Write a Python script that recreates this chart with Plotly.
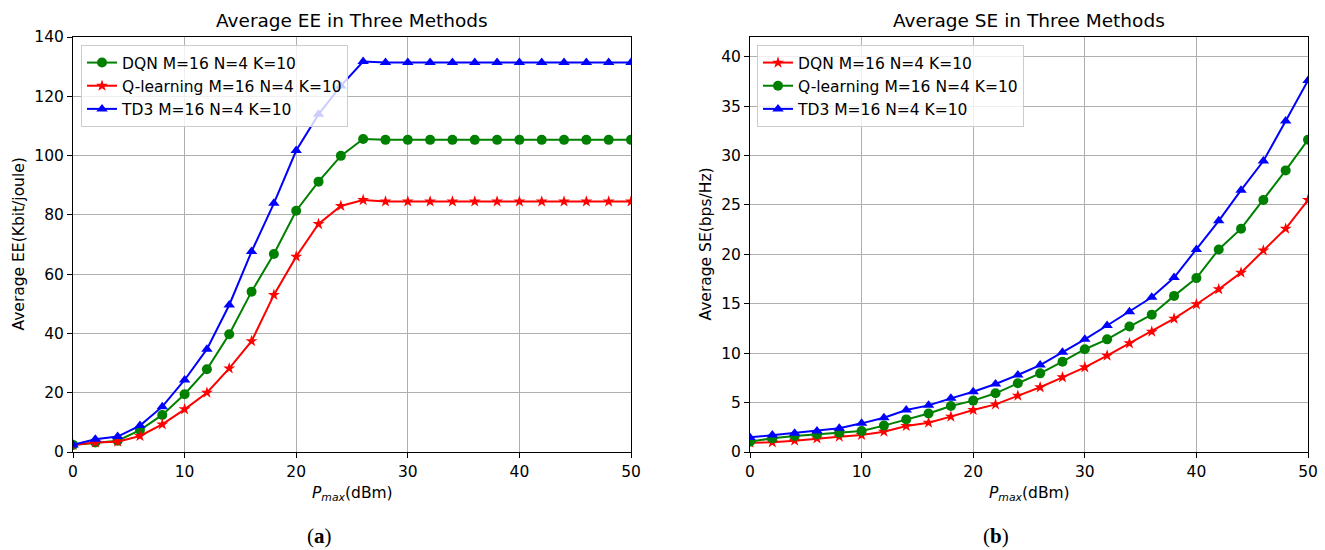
import plotly.graph_objects as go

p_max = list(range(0, 51, 2))

# Left: Average EE (Kbit/joule)
ee_td3 = [2.4, 4.3, 5.2, 8.9, 15.3, 24.3, 34.7, 49.6, 67.6, 83.9, 101.7, 113.9, 123.5, 131.7,
          131.4, 131.4, 131.4, 131.4, 131.4, 131.4, 131.4, 131.4, 131.4, 131.4, 131.4, 131.4]
ee_dqn = [2.4, 3.2, 3.8, 7.4, 12.5, 19.5, 27.9, 39.7, 54.1, 66.8, 81.4, 91.2, 99.9, 105.6,
          105.3, 105.3, 105.3, 105.3, 105.3, 105.3, 105.3, 105.3, 105.3, 105.3, 105.3, 105.3]
ee_ql = [2.4, 3.2, 3.5, 5.4, 9.3, 14.4, 20.0, 28.2, 37.4, 53.0, 65.9, 76.9, 83.0, 85.0,
         84.5, 84.5, 84.5, 84.5, 84.5, 84.5, 84.5, 84.5, 84.5, 84.5, 84.5, 84.5]

# Right: Average SE (bps/Hz)
se_td3 = [1.48, 1.72, 1.89, 2.13, 2.4, 2.9, 3.47, 4.25, 4.72, 5.43, 6.1, 6.88, 7.79, 8.8,
          10.09, 11.4, 12.8, 14.2, 15.66, 17.65, 20.5, 23.4, 26.5, 29.45, 33.5, 37.6]
se_ql = [1.05, 1.38, 1.62, 1.79, 1.96, 2.13, 2.67, 3.3, 3.9, 4.66, 5.2, 5.94, 6.95, 7.96,
         9.14, 10.4, 11.4, 12.7, 13.9, 15.8, 17.6, 20.5, 22.6, 25.5, 28.5, 31.6]
se_dqn = [0.94, 0.98, 1.15, 1.38, 1.55, 1.72, 2.06, 2.63, 2.97, 3.58, 4.25, 4.82, 5.7, 6.55,
          7.56, 8.57, 9.75, 11.0, 12.18, 13.5, 14.95, 16.47, 18.15, 20.4, 22.6, 25.5]

GREEN = "#008000"
RED = "#ff0000"
BLUE = "#0000ff"
FONT = "DejaVu Sans"
FS = 15.5

fig = go.Figure()

def add(x, y, name, color, symbol, size, xa, ya, legend):
    fig.add_trace(go.Scatter(
        x=x, y=y, name=name, mode="lines+markers",
        line=dict(color=color, width=2),
        marker=dict(color=color, symbol=symbol, size=size, line=dict(width=0)),
        xaxis=xa, yaxis=ya, legend=legend))

add(p_max, ee_dqn, "DQN M=16 N=4 K=10", GREEN, "circle", 10, "x", "y", "legend")
add(p_max, ee_ql, "Q-learning M=16 N=4 K=10", RED, "star", 9, "x", "y", "legend")
add(p_max, ee_td3, "TD3 M=16 N=4 K=10", BLUE, "triangle-up", 10, "x", "y", "legend")

add(p_max, se_dqn, "DQN M=16 N=4 K=10", RED, "star", 9, "x2", "y2", "legend2")
add(p_max, se_ql, "Q-learning M=16 N=4 K=10", GREEN, "circle", 10, "x2", "y2", "legend2")
add(p_max, se_td3, "TD3 M=16 N=4 K=10", BLUE, "triangle-up", 10, "x2", "y2", "legend2")

W, H = 1325, 550
ydom = [1 - 452 / H, 1 - 37 / H]

axis_common = dict(showline=True, linecolor="black", linewidth=1, mirror=True,
                   ticks="outside", ticklen=5, tickcolor="black",
                   showgrid=True, gridcolor="#b0b0b0", gridwidth=1,
                   zeroline=False, automargin=False,
                   tickfont=dict(family=FONT, size=FS, color="black"))

legend_common = dict(xanchor="left", yanchor="top",
                     bgcolor="rgba(255,255,255,0.8)", bordercolor="#cccccc", borderwidth=1,
                     font=dict(family=FONT, size=FS, color="black"), itemwidth=30,
                     tracegroupgap=0)

fig.update_layout(
    width=W, height=H,
    margin=dict(l=0, r=0, t=0, b=0, autoexpand=False),
    paper_bgcolor="white", plot_bgcolor="white",
    showlegend=True,
    xaxis=dict(domain=[73 / W, 631 / W], range=[0, 50], tickvals=[0, 10, 20, 30, 40, 50],
               anchor="y", **axis_common),
    yaxis=dict(domain=ydom, range=[0, 140], tickvals=list(range(0, 141, 20)), anchor="x",
               **axis_common),
    xaxis2=dict(domain=[750 / W, 1308 / W], range=[0, 50], tickvals=[0, 10, 20, 30, 40, 50],
                anchor="y2", **axis_common),
    yaxis2=dict(domain=ydom, range=[0, 42], tickvals=list(range(0, 41, 5)), anchor="x2",
                **axis_common),
    legend=dict(x=81 / W, y=1 - 45 / H, **legend_common),
    legend2=dict(x=757 / W, y=1 - 45 / H, **legend_common),
)

def ann(text, x, y, size, family=FONT, angle=0):
    fig.add_annotation(text=text, x=x / W, y=1 - y / H, xref="paper", yref="paper",
                       showarrow=False, xanchor="center", yanchor="middle", textangle=angle,
                       font=dict(family=family, size=size, color="black"))

ann("Average EE in Three Methods", (73 + 631) / 2, 20, 18.5)
ann("Average SE in Three Methods", (750 + 1308) / 2, 20, 18.5)
ann("<i>P</i><sub><i>max</i></sub>(dBm)", (73 + 631) / 2, 494, FS)
ann("<i>P</i><sub><i>max</i></sub>(dBm)", (750 + 1308) / 2, 494, FS)
ann("Average EE(Kbit/joule)", 18, (37 + 452) / 2, FS, angle=-90)
ann("Average SE(bps/Hz)", 705, (37 + 452) / 2, FS, angle=-90)
ann("(<b>a</b>)", 319, 536, 21, family="Liberation Serif")
ann("(<b>b</b>)", 996, 536, 21, family="Liberation Serif")

fig.write_html("out.html", config={"displayModeBar": False},
               post_script="document.body.style.margin='0';document.body.style.overflow='hidden';")
